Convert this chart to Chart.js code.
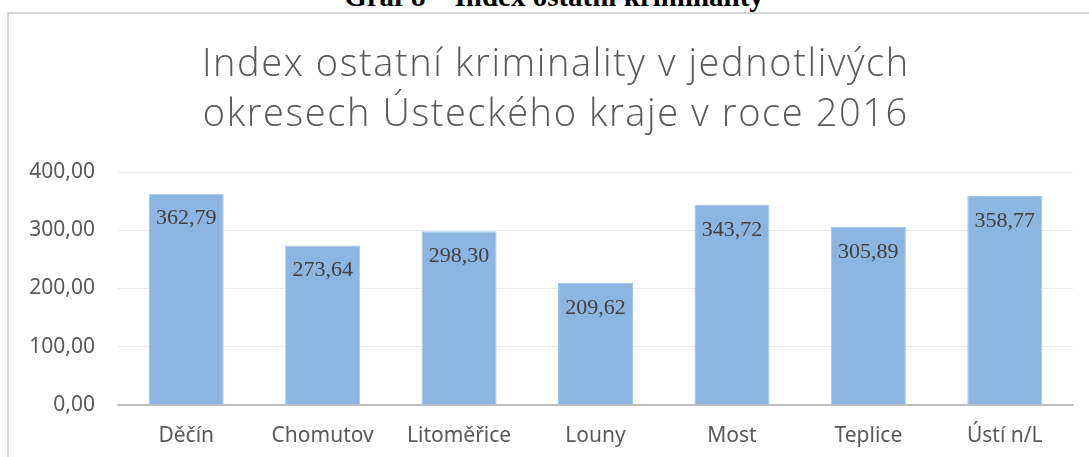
<!DOCTYPE html>
<html><head><meta charset="utf-8">
<script src="https://cdn.jsdelivr.net/npm/chart.js@4/dist/chart.umd.min.js"></script>
<style>
html,body{margin:0;padding:0;background:#fff;width:1089px;height:457px;overflow:hidden;position:relative}
#hdr{position:absolute;left:0;width:1089px;top:-19px;text-align:center;font:bold 29px "Liberation Serif","Times New Roman",serif;color:#000;line-height:30px;padding-left:19px;box-sizing:border-box}
#frame{position:absolute;left:7px;top:12px;width:1100px;height:460px;border-left:2px solid #d9d9d9;border-top:2px solid #d9d9d9}
#wrap{position:absolute;left:0;top:0;width:1089px;height:457px}
</style></head>
<body>
<div id="hdr">Graf 8 – Index ostatní kriminality</div>
<div id="frame"></div>
<div id="wrap"><canvas id="c"></canvas></div>
<script>
const categories = ["Děčín","Chomutov","Litoměřice","Louny","Most","Teplice","Ústí n/L"];
const values = [362.79, 273.64, 298.30, 209.62, 343.72, 305.89, 358.77];
const yTicks = [0, 100, 200, 300, 400];
const titleLines = ["Index ostatní kriminality v jednotlivých","okresech Ústeckého kraje v roce 2016"];

const fmt = v => v.toFixed(2).replace('.', ',');

const spacedTitle = {
  id:'spacedTitle',
  afterDraw(chart){
    const ctx = chart.ctx;
    ctx.save();
    ctx.font = '300 38px "Open Sans","Noto Sans",sans-serif';
    ctx.fillStyle = '#595959';
    ctx.textAlign = 'center';
    ctx.textBaseline = 'middle';
    const sp = 1.6;
    ctx.letterSpacing = sp + 'px';
    titleLines.forEach((t,i)=>{
      ctx.fillText(t, 555 + sp/2, 65 + i*50);
    });
    ctx.restore();
  }
};

const valueLabels = {
  id:'valueLabels',
  afterDatasetsDraw(chart){
    const ctx = chart.ctx;
    const meta = chart.getDatasetMeta(0);
    ctx.save();
    ctx.font = '22px "Liberation Serif","Times New Roman",serif';
    ctx.fillStyle = '#404040';
    ctx.textAlign = 'center';
    ctx.textBaseline = 'middle';
    meta.data.forEach((bar,i)=>{
      ctx.fillText(fmt(values[i]), bar.x, bar.y + 25);
    });
    ctx.restore();
  }
};

new Chart(document.getElementById('c'), {
  type:'bar',
  data:{labels:categories, datasets:[{data:values, backgroundColor:'#8db5e2', borderColor:'#a8c6ea', borderWidth:1, categoryPercentage:1, barPercentage:0.55}]},
  options:{
    responsive:true, maintainAspectRatio:false, animation:false,
    layout:{padding:{left:0,right:16,top:172,bottom:10}},
    plugins:{ legend:{display:false}, tooltip:{enabled:false}, title:{display:false} },
    scales:{
      x:{afterFit(s){s.height=42;}, grid:{display:false, drawTicks:false}, border:{color:'#bfbfbf', width:2},
         ticks:{color:'#595959', font:{family:'"Noto Sans","Open Sans",sans-serif', size:21}, padding:18, maxRotation:0}},
      y:{min:0,max:400, afterFit(s){s.width=118;},
         afterBuildTicks(s){s.ticks = yTicks.map(v=>({value:v}));},
         grid:{color:'#ececec', drawTicks:false}, border:{display:false},
         ticks:{color:'#595959', font:{family:'"Noto Sans","Open Sans",sans-serif', size:21}, padding:23, callback:v=>fmt(v)}}
    }
  },
  plugins:[valueLabels, spacedTitle]
});
</script>
</body></html>
